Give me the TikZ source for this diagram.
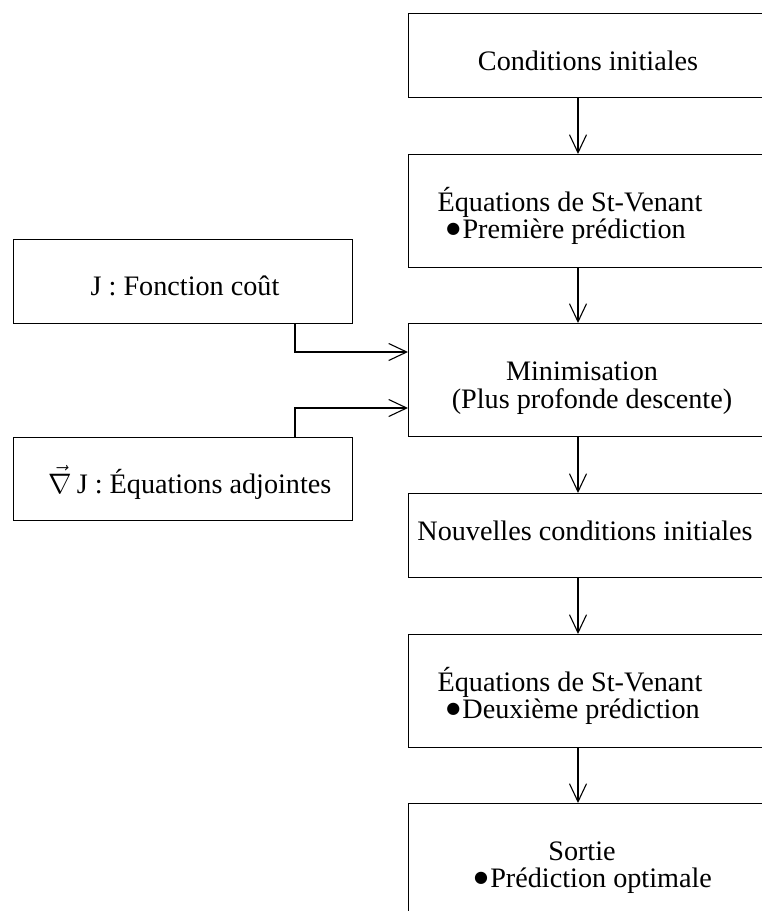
\documentclass[tikz,border=0pt]{standalone}
\usepackage{fix-cm}
\usepackage{fontspec}
\setmainfont{Liberation Serif}
\newfontfamily\dejavu{DejaVu Sans}
\usetikzlibrary{arrows.meta}
\newcommand{\bigbul}{\raisebox{5pt}{\dejavu\fontsize{16}{16}\selectfont ●}\hspace{0.08em}}
\begin{document}
\begin{tikzpicture}[x=1pt,y=-1pt,
  box/.style={draw, line width=1.1pt, rectangle, inner sep=0pt, anchor=north west},
  lbl/.style={anchor=base, inner sep=0pt, font=\fontsize{28.2}{28}\selectfont},
  link/.style={line width=1.1pt, -{Straight Barb[length=18pt,width=17pt,line width=1.1pt]}}]
\useasboundingbox (0,0) rectangle (762,911);
% boxes
\node[box, minimum width=362pt, minimum height=84pt]  (b1)   at (408,13)  {};
\node[box, minimum width=362pt, minimum height=113pt] (b2)   at (408,154) {};
\node[box, minimum width=339pt, minimum height=84pt]  (bJ)   at (13,239)  {};
\node[box, minimum width=362pt, minimum height=113pt] (bMin) at (408,323) {};
\node[box, minimum width=339pt, minimum height=83pt]  (bN)   at (13,437)  {};
\node[box, minimum width=362pt, minimum height=84pt]  (bNew) at (408,493) {};
\node[box, minimum width=362pt, minimum height=113pt] (b5)   at (408,634) {};
\node[box, minimum width=362pt, minimum height=130pt] (b6)   at (408,803) {};
% texts
\node[lbl] (t1)  at (588,70)  {Conditions initiales};
\node[lbl] (t2a) at (570,211) {Équations de St-Venant};
\node[lbl] (t2b) at (566,238) {\bigbul Première prédiction};
\node[lbl] (tJ)  at (185,295) {J : Fonction coût};
\node[lbl] (tMa) at (582,380) {Minimisation};
\node[lbl] (tMb) at (592,408) {(Plus profonde descente)};
\node[lbl] (tN)  at (190,493) {$\vec{\nabla}$\,J : Équations adjointes};
\node[lbl] (tNw) at (585,540) {Nouvelles conditions initiales};
\node[lbl] (t5a) at (570,691) {Équations de St-Venant};
\node[lbl] (t5b) at (573,718) {\bigbul Deuxième prédiction};
\node[lbl] (t6a) at (582,860) {Sortie};
\node[lbl] (t6b) at (593,887) {\bigbul Prédiction optimale};
% connectors
\coordinate (ax) at (578,0);
\coordinate (jx) at (295,0);
\coordinate (y1) at (0,352);
\coordinate (y2) at (0,408);
\draw[link] (b1.south -| ax) -- (b2.north -| ax);
\draw[link] (b2.south -| ax) -- (bMin.north -| ax);
\draw[link] (bMin.south -| ax) -- (bNew.north -| ax);
\draw[link] (bNew.south -| ax) -- (b5.north -| ax);
\draw[link] (b5.south -| ax) -- (b6.north -| ax);
\draw[link] (bJ.south -| jx) |- (bMin.west |- y1);
\draw[link] (bN.north -| jx) |- (bMin.west |- y2);
\end{tikzpicture}
\end{document}
